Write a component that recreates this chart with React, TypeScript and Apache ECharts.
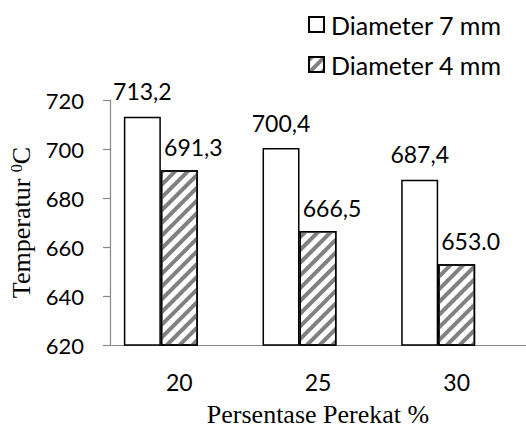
import React, { useEffect, useRef } from "react";
import * as echarts from "echarts";

const categories = ["20", "25", "30"];
const seriesNames = ["Diameter 7 mm", "Diameter 4 mm"];
const values7mm = [713.2, 700.4, 687.4];
const values4mm = [691.3, 666.5, 653.0];
const labels7mm = ["713,2", "700,4", "687,4"];
const labels4mm = ["691,3", "666,5", "653.0"];
const emptySeries = [null, null, null];
const yMin = 620;
const yMax = 720;
const yStep = 20;

const SANS = "Lato";
const SERIF = "Liberation Serif";

export default function App() {
  const ref = useRef<HTMLDivElement>(null);
  useEffect(() => {
    if (!ref.current) return;
    const chart = echarts.init(ref.current, null, { renderer: "svg" });
    const labelStyle = {
      show: true,
      position: "top" as const,
      color: "#000",
      fontFamily: SANS,
      fontSize: 23,
    };
    chart.setOption({
      animation: false,
      backgroundColor: "#fff",
      grid: { left: 110, top: 100, width: 417, height: 253, containLabel: false },
      legend: {
        data: seriesNames,
        orient: "vertical",
        left: 308,
        top: 12,
        padding: 0,
        itemWidth: 15,
        itemHeight: 15,
        itemGap: 15,
        icon: "rect",
        textStyle: { color: "#000", fontFamily: SANS, fontSize: 25, padding: [0, 0, 0, 2] },
      },
      xAxis: {
        type: "category",
        data: categories,
        axisLine: { show: true, lineStyle: { color: "#898989", width: 1.2 } },
        axisTick: { show: false },
        axisLabel: { color: "#000", fontFamily: SANS, fontSize: 23, margin: 25 },
        name: "Persentase Perekat %",
        nameLocation: "middle",
        nameGap: 56,
        nameTextStyle: { color: "#000", fontFamily: SERIF, fontSize: 26 },
      },
      yAxis: {
        type: "value",
        min: yMin,
        max: yMax,
        interval: yStep,
        splitLine: { show: false },
        axisLine: { show: true, lineStyle: { color: "#898989", width: 1.2 } },
        axisTick: { show: true, length: 7, lineStyle: { color: "#898989", width: 1.2 } },
        axisLabel: { color: "#000", fontFamily: SANS, fontSize: 22, margin: 26 },
        name: "{a|Temperatur }{s|0}{a|C}",
        nameLocation: "middle",
        nameGap: 73,
        nameTextStyle: {
          color: "#000",
          fontFamily: SERIF,
          fontSize: 26,
          rich: {
            a: { fontFamily: SERIF, fontSize: 26, color: "#000" },
            s: { fontFamily: SERIF, fontSize: 16, color: "#000", padding: [0, 0, 10, 0] },
          },
        },
      },
      series: [
        {
          name: seriesNames[0],
          type: "bar",
          data: values7mm,
          barGap: "0%",
          barCategoryGap: "20%",
          itemStyle: { color: "#fff", borderColor: "#000", borderWidth: 1.5 },
          label: { ...labelStyle, distance: 14, formatter: (p: any) => labels7mm[p.dataIndex] },
        },
        {
          name: seriesNames[1],
          type: "bar",
          data: values4mm,
          barGap: "0%",
          barCategoryGap: "20%",
          itemStyle: {
            color: "#fff",
            borderColor: "#000",
            borderWidth: 1.5,
            decal: {
              symbol: "rect",
              symbolSize: 1,
              color: "#808080",
              backgroundColor: "#fff",
              dashArrayX: [1, 0],
              dashArrayY: [4, 5],
              rotation: -Math.PI / 4,
            },
          },
          label: {
            ...labelStyle,
            distance: 12,
            offset: [14, 0],
            formatter: (p: any) => labels4mm[p.dataIndex],
          },
        },
        {
          name: "spacer",
          type: "bar",
          data: emptySeries,
          barGap: "0%",
          barCategoryGap: "20%",
          itemStyle: { color: "#fff" },
        },
      ],
    });
    return () => chart.dispose();
  }, []);
  return (
    <div
      ref={ref}
      style={{ position: "fixed", left: 0, top: 0, width: 526, height: 432 }}
    />
  );
}
